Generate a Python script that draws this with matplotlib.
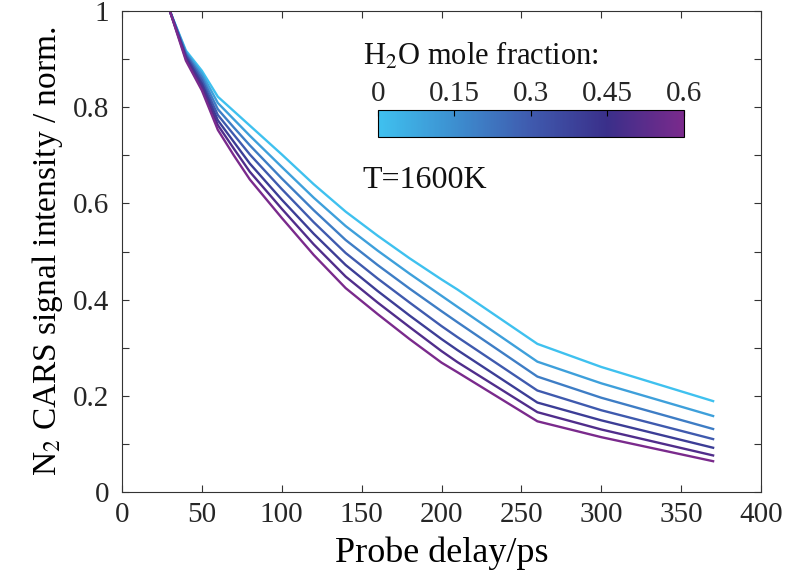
import numpy as np
import matplotlib
matplotlib.use("Agg")
import matplotlib.pyplot as plt
from matplotlib.colors import LinearSegmentedColormap, Normalize
from matplotlib.cm import ScalarMappable
from matplotlib.ticker import MultipleLocator

plt.rcParams['font.family'] = ['Liberation Serif', 'DejaVu Serif']
plt.rcParams['mathtext.fontset'] = 'stix'

# probe delay (ps)
delay = np.array([30, 40, 50, 60, 70, 80, 100, 120, 140, 160, 180, 200, 210, 260, 300, 370])

# H2O mole fraction of each curve
h2o = [0.0, 0.1, 0.2, 0.3, 0.4, 0.5, 0.6]

# normalised N2 CARS signal, one list per H2O fraction
s00 = [1.0, 0.918, 0.876, 0.822, 0.792, 0.762, 0.702, 0.640, 0.583, 0.533, 0.486, 0.442, 0.421, 0.308, 0.260, 0.189]
s01 = [1.0, 0.915, 0.870, 0.809, 0.775, 0.741, 0.676, 0.612, 0.553, 0.502, 0.454, 0.408, 0.385, 0.271, 0.226, 0.158]
s02 = [1.0, 0.912, 0.863, 0.796, 0.758, 0.721, 0.652, 0.586, 0.524, 0.472, 0.423, 0.376, 0.353, 0.240, 0.196, 0.131]
s03 = [1.0, 0.909, 0.856, 0.784, 0.743, 0.702, 0.630, 0.561, 0.497, 0.444, 0.394, 0.345, 0.322, 0.211, 0.170, 0.110]
s04 = [1.0, 0.905, 0.849, 0.773, 0.728, 0.683, 0.608, 0.537, 0.472, 0.418, 0.367, 0.318, 0.295, 0.186, 0.149, 0.092]
s05 = [1.0, 0.901, 0.842, 0.763, 0.714, 0.666, 0.589, 0.515, 0.448, 0.394, 0.343, 0.293, 0.270, 0.166, 0.130, 0.076]
s06 = [1.0, 0.897, 0.835, 0.753, 0.700, 0.650, 0.570, 0.493, 0.424, 0.370, 0.318, 0.269, 0.249, 0.147, 0.114, 0.064]
signals = [s00, s01, s02, s03, s04, s05, s06]

cb_ticks = [0, 0.15, 0.3, 0.45, 0.6]

# light blue -> blue -> indigo -> purple
cmap = LinearSegmentedColormap.from_list(
    "h2o", ["#3fc1ef", "#3d8fd0", "#3f5aae", "#3a2f8a", "#7a2a8c"])
norm = Normalize(vmin=0, vmax=0.6)

fig = plt.figure(figsize=(7.87, 5.85), dpi=100)
ax = fig.add_axes([0.155, 0.159, 0.812, 0.822])

for f, s in zip(h2o, signals):
    ax.plot(delay, s, color=cmap(norm(f)), lw=1.7)

ax.set_xlim(0, 400)
ax.set_ylim(0, 1)
ax.xaxis.set_major_locator(MultipleLocator(50))
ax.yaxis.set_minor_locator(MultipleLocator(0.1))
ax.set_yticks([0, 0.2, 0.4, 0.6, 0.8, 1.0])
ax.set_yticklabels(['0', '0.2', '0.4', '0.6', '0.8', '1'])
ax.tick_params(which='both', direction='in', top=True, right=True,
               length=5, width=0.8, color='#333333', labelsize=21,
               labelcolor='#262626')
ax.tick_params(axis='x', pad=7)
ax.tick_params(axis='y', pad=9)
for sp in ax.spines.values():
    sp.set_color('#333333')
    sp.set_linewidth(0.8)

ax.set_xlabel('Probe delay/ps', fontsize=26, labelpad=6)
ax.set_ylabel(r'N$_2$ CARS signal intensity / norm.', fontsize=24, labelpad=6)

# colour bar inside the axes
cax = fig.add_axes([0.480, 0.766, 0.389, 0.046])
cb = fig.colorbar(ScalarMappable(norm=norm, cmap=cmap), cax=cax,
                  orientation='horizontal', ticks=cb_ticks)
cb.ax.set_xticklabels(['0', '0.15', '0.3', '0.45', '0.6'])
cb.ax.xaxis.set_ticks_position('top')
cb.ax.tick_params(direction='in', length=4, width=0.8, labelsize=21,
                  labelcolor='#262626', pad=2)
cb.outline.set_linewidth(0.8)

fig.text(0.461, 0.890, r'H$_2$O mole fraction:', fontsize=22, color='#111111')
fig.text(0.461, 0.678, 'T=1600K', fontsize=23, color='#111111')

fig.savefig('out.png', dpi=100)
